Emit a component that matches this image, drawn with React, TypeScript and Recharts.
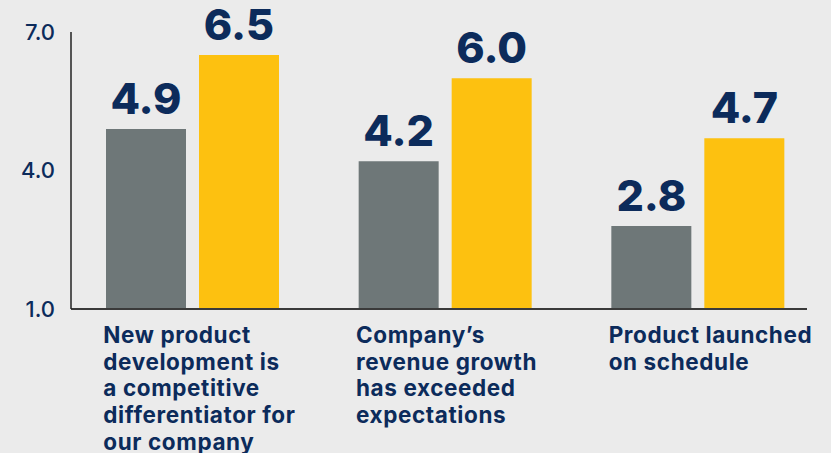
import { Bar, BarChart, LabelList, XAxis, YAxis } from "recharts"

const categories = [
  "New product\ndevelopment is\na competitive\ndifferentiator for\nour company",
  "Company’s\nrevenue growth\nhas exceeded\nexpectations",
  "Product launched\non schedule",
]
const grayValues = [4.9, 4.2, 2.8]
const yellowValues = [6.5, 6.0, 4.7]
const yTicks = [1, 4, 7]

const data = categories.map((name, i) => ({
  name,
  gray: grayValues[i],
  yellow: yellowValues[i],
}))

const NAVY = "#0c2b5b"
const FONT = "Inter, 'Noto Sans', sans-serif"

function CategoryTick(props: any) {
  const { x, y, payload } = props
  const lines = String(payload.value).split("\n")
  return (
    <text
      x={x - 89}
      y={y}
      fill={NAVY}
      fontFamily={FONT}
      fontSize={22.5}
      fontWeight={700}
      letterSpacing={0.6}
      textAnchor="start"
    >
      {lines.map((line, i) => (
        <tspan key={i} x={x - 89} dy={i === 0 ? 34 : 26.7}>
          {line}
        </tspan>
      ))}
    </text>
  )
}

export default function App() {
  return (
    <div style={{ position: "fixed", left: 0, top: 0, width: 831, height: 453, background: "#ebebeb" }}>
      <BarChart
        width={831}
        height={453}
        data={data}
        margin={{ top: 32, right: 24, bottom: 0, left: 0 }}
        barSize={80}
        barGap={13}
      >
        <XAxis
          dataKey="name"
          height={144}
          padding={{ left: -5, right: -17 }}
          axisLine={{ stroke: "#3a3a3a", strokeWidth: 2 }}
          tickLine={false}
          tickSize={0}
          tickMargin={0}
          interval={0}
          tick={<CategoryTick />}
        />
        <YAxis
          width={71}
          domain={[1, 7]}
          ticks={yTicks}
          allowDataOverflow
          axisLine={{ stroke: "#222", strokeWidth: 1.5 }}
          tickLine={false}
          tickSize={0}
          tickMargin={16}
          tickFormatter={(v: number) => v.toFixed(1)}
          tick={{ fill: NAVY, fontSize: 22, fontFamily: FONT, fontWeight: 500 }}
        />
        <Bar dataKey="gray" fill="#6e7778" isAnimationActive={false}>
          <LabelList
            dataKey="gray"
            position="top"
            offset={15}
            formatter={(v: any) => Number(v).toFixed(1)}
            fill={NAVY}
            fontSize={43}
            fontWeight={800}
            fontFamily={FONT}
          />
        </Bar>
        <Bar dataKey="yellow" fill="#fdc110" isAnimationActive={false}>
          <LabelList
            dataKey="yellow"
            position="top"
            offset={15}
            formatter={(v: any) => Number(v).toFixed(1)}
            fill={NAVY}
            fontSize={43}
            fontWeight={800}
            fontFamily={FONT}
          />
        </Bar>
      </BarChart>
    </div>
  )
}
